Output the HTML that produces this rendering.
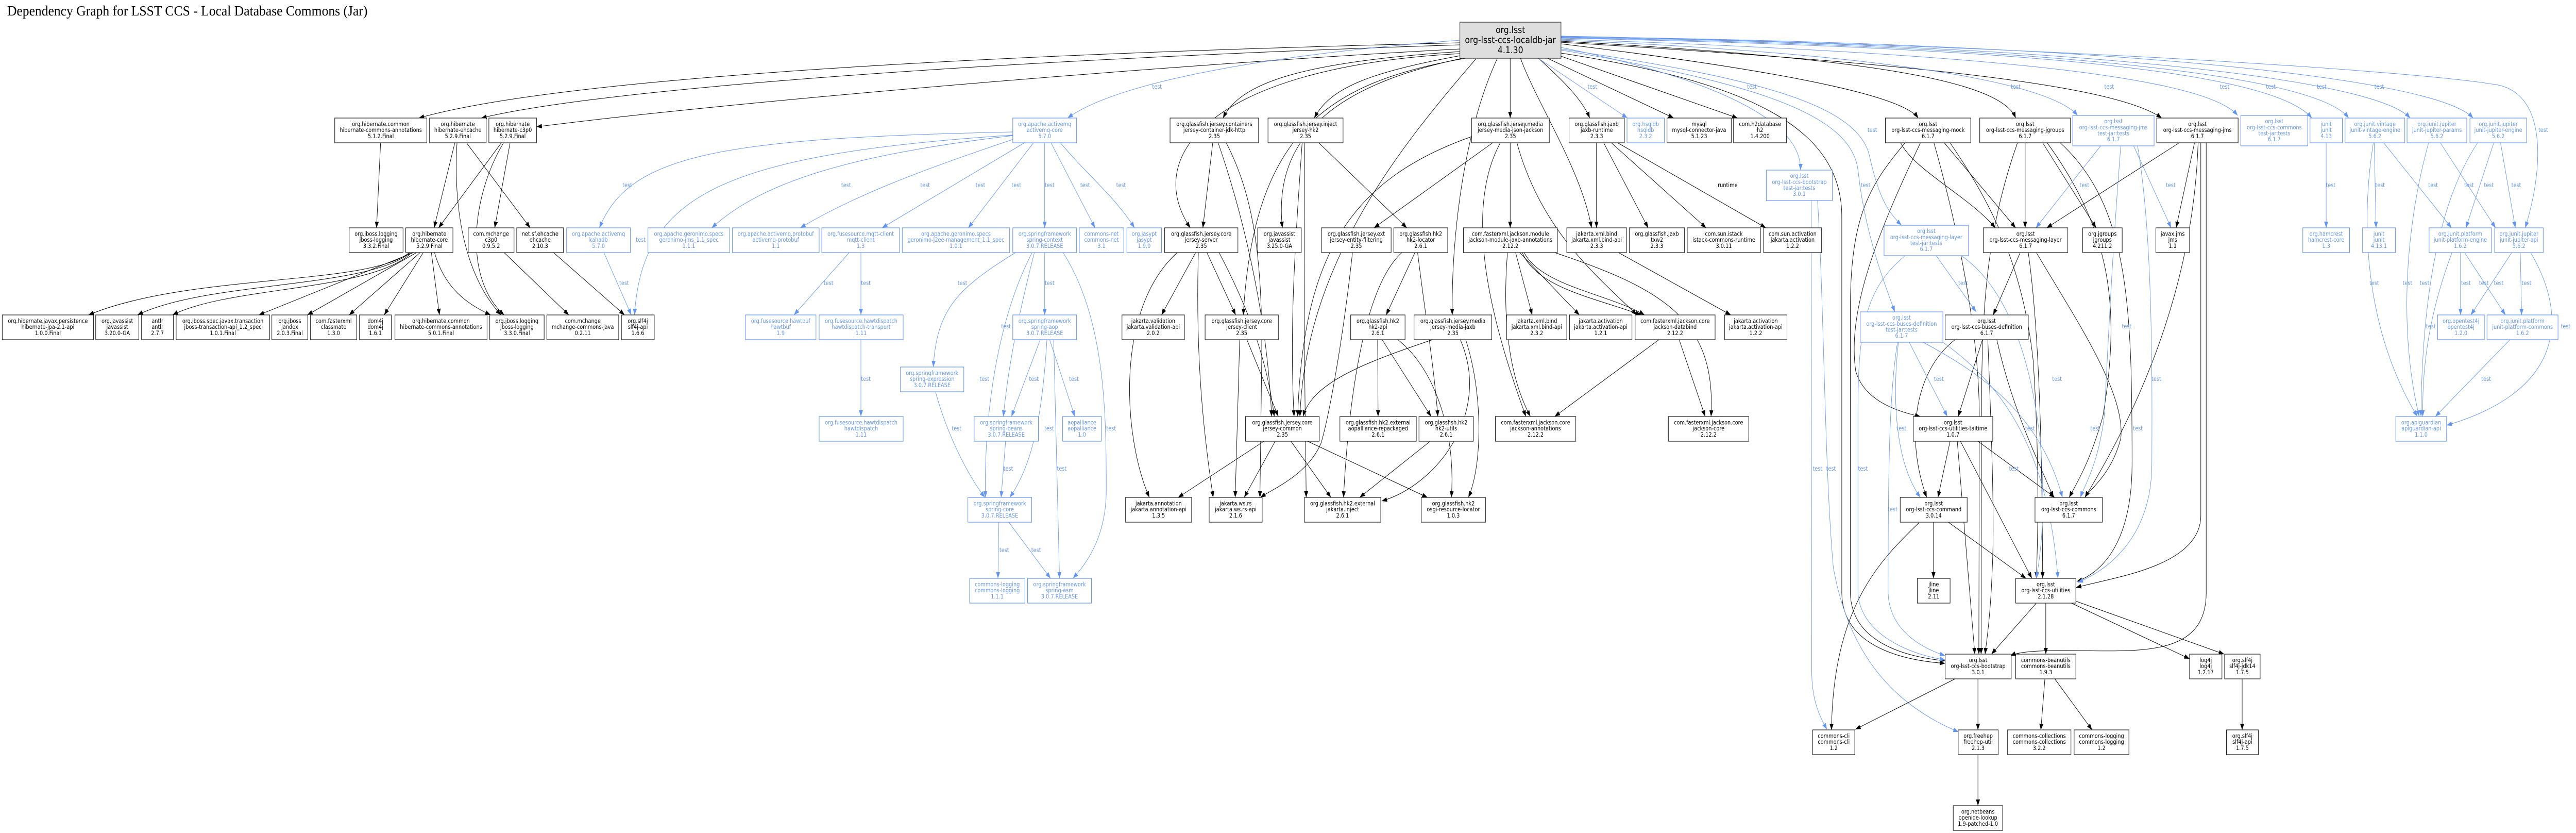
<!DOCTYPE html>
<html>
<head>
<meta charset="utf-8">
<title>Dependency Graph for LSST CCS - Local Database Commons (Jar)</title>
<style>
html,body{margin:0;padding:0;background:#fff;width:100%;height:100%;overflow:hidden;}
svg{display:block;width:100vw;height:100vh;}
.nd rect{fill:#fff;stroke:#1a1a1a;stroke-width:1.2;}
.nd text{font-family:"DejaVu Sans","Liberation Sans",sans-serif;font-size:11.2px;text-anchor:middle;fill:#000;}
.bl rect{stroke:#6495ED;}
.bl text{fill:#6495ED;}
.lb{font-family:"DejaVu Sans","Liberation Sans",sans-serif;font-size:11.2px;text-anchor:middle;fill:#6495ED;}
.lk{font-family:"DejaVu Sans","Liberation Sans",sans-serif;font-size:11.2px;text-anchor:middle;fill:#000;}
.ek path{fill:none;stroke:#000;stroke-width:1;}
.eb path{fill:none;stroke:#6495ED;stroke-width:1;}
</style>
</head>
<body>
<svg xmlns="http://www.w3.org/2000/svg" width="100%" height="100%" viewBox="0 0 5733 1616" preserveAspectRatio="none">
<defs>
<marker id="a" viewBox="0 0 12 9" refX="12" refY="4.5" markerWidth="12" markerHeight="9" markerUnits="userSpaceOnUse" orient="auto"><path d="M0,0L12,4.5L0,9z" fill="#000"/></marker>
<marker id="b" viewBox="0 0 12 9" refX="12" refY="4.5" markerWidth="12" markerHeight="9" markerUnits="userSpaceOnUse" orient="auto"><path d="M0,0L12,4.5L0,9z" fill="#6495ED"/></marker>
</defs>
<rect x="0" y="0" width="5733" height="1616" fill="#fff"/>
<text x="16" y="30" font-family="Liberation Serif, serif" font-size="27" textLength="802" lengthAdjust="spacingAndGlyphs" fill="#000">Dependency Graph for LSST CCS - Local Database Commons (Jar)</text>

<!-- BLACK EDGES -->
<g class="ek" marker-end="url(#a)">
<path d="M3250,83 C2200,105 1250,150 932,229"/>
<path d="M3250,87 C2250,115 1350,170 1071,229"/>
<path d="M3250,95 C2700,120 1700,190 1194,246"/>
<path d="M847,277 L838,442"/>
<path d="M1012,278 L966,442"/>
<path d="M1017,278 C1008,420 1040,540 1115,611"/>
<path d="M1039,278 L1180,442"/>
<path d="M1115,278 L976,442"/>
<path d="M1120,278 C1050,380 1030,540 1122,611"/>
<path d="M1135,278 L1101,442"/>
<path d="M911,490 C820,555 420,530 197,611"/>
<path d="M913,490 C820,560 460,545 306,611"/>
<path d="M916,490 C830,565 510,555 384,611"/>
<path d="M920,490 L576,611"/>
<path d="M927,490 L684,611"/>
<path d="M935,490 L777,611"/>
<path d="M942,490 L855,611"/>
<path d="M960,490 L978,611"/>
<path d="M967,490 C990,560 1040,590 1092,611"/>
<path d="M1122,490 L1266,611"/>
<path d="M1232,490 L1390,611"/>

<path d="M3250,100 C2900,120 2760,160 2722,229"/>
<path d="M3250,104 C2700,130 2540,300 2649,442"/>
<path d="M3255,113 C3000,160 2830,250 2854,442"/>
<path d="M3262,113 C2950,160 2790,260 2767,611"/>
<path d="M3250,108 C3050,140 2960,170 2925,229"/>
<path d="M3285,114 C3100,300 2905,520 2893,808"/>
<path d="M3361,113 L3361,229"/>
<path d="M3424,113 C3470,150 3520,190 3538,229"/>
<path d="M3444,113 L3725,229"/>
<path d="M3474,109 L3867,229"/>
<path d="M3474,85 C3900,130 4230,180 4269,229"/>
<path d="M3384,113 C3420,200 3520,330 3542,442"/>
<path d="M3332,114 C3260,250 3230,450 3232,611"/>
<path d="M3474,80 C4100,110 4450,150 4486,229"/>
<path d="M3474,82 C4200,120 4700,160 4811,229"/>
<path d="M3474,103 C3900,160 4099,250 4099,420 L4099,1150 C4100,1260 4250,1282 4329,1287"/>
<path d="M4240,277 C4160,360 4118,420 4118,600 L4118,1150 C4120,1250 4250,1275 4329,1282"/>

<path d="M2699,277 L2677,442"/>
<path d="M2711,277 C2760,400 2820,600 2830,808"/>
<path d="M2729,277 C2790,380 2810,500 2808,700 C2806,850 2805,920 2804,965"/>
<path d="M2620,490 C2480,600 2500,850 2558,965"/>
<path d="M2661,490 L2585,611"/>
<path d="M2667,490 C2660,700 2680,850 2700,965"/>
<path d="M2686,490 L2750,611"/>
<path d="M2713,490 C2780,600 2820,700 2836,808"/>
<path d="M2759,659 L2749,965"/>
<path d="M2775,659 L2845,808"/>
<path d="M2813,856 L2622,965"/>
<path d="M2838,856 L2769,965"/>
<path d="M2935,277 L3131,442"/>
<path d="M2898,277 C2880,500 2870,650 2880,808"/>
<path d="M2904,277 C2900,600 2905,800 2907,965"/>
<path d="M3275,265 C3000,350 2900,500 2888,808"/>
<path d="M3322,277 L3058,442"/>
<path d="M3361,277 L3361,442"/>
<path d="M3376,277 C3430,450 3560,540 3643,611"/>
<path d="M3339,277 C3250,420 3330,650 3396,808"/>
<path d="M3553,277 L3553,442"/>
<path d="M3569,277 L3668,442"/>
<path d="M3586,277 L3797,442"/>
<path d="M3600,277 L3930,442"/>
<path d="M3010,490 C2990,650 2960,800 2940,860 C2910,920 2840,945 2805,965"/>
<path d="M3149,490 L3085,611"/>
<path d="M3155,490 C3170,600 3190,700 3200,808"/>
<path d="M3120,490 C3030,560 3000,800 2990,965"/>
<path d="M3066,659 L3067,808"/>
<path d="M3076,659 L3185,808"/>
<path d="M3111,659 C3200,720 3240,850 3230,965"/>
<path d="M3188,659 C3050,700 2920,740 2900,808"/>
<path d="M3250,659 C3320,800 3200,940 3075,972"/>
<path d="M3262,659 C3300,760 3300,900 3268,965"/>
<path d="M3183,856 L3026,965"/>
<path d="M2873,856 L2962,965"/>
<path d="M2910,856 L3177,965"/>
<path d="M3373,490 L3410,611"/>
<path d="M3382,490 L3515,611"/>
<path d="M3388,490 C3420,560 3560,580 3652,611"/>
<path d="M3392,490 C3430,555 3580,570 3660,611"/>
<path d="M3460,490 C3700,560 3820,620 3808,808"/>
<path d="M3355,490 C3340,650 3370,750 3406,808"/>
<path d="M3602,490 L3852,611"/>
<path d="M3692,659 L3460,808"/>
<path d="M3737,659 L3795,808"/>

<path d="M4230,277 C4260,330 4380,380 4441,442"/>
<path d="M4327,277 L4486,442"/>
<path d="M4274,277 C4180,450 4110,600 4130,720 C4150,780 4230,800 4274,808"/>
<path d="M4304,277 C4360,450 4405,650 4405,808 C4405,1000 4404,1150 4404,1269"/>
<path d="M4340,277 C4420,380 4500,500 4525,700 C4540,900 4535,1050 4532,1122"/>
<path d="M4507,277 L4507,442"/>
<path d="M4546,277 L4665,442"/>
<path d="M4490,277 C4420,450 4410,600 4410,808 C4410,1000 4409,1150 4409,1269"/>
<path d="M4556,277 C4700,450 4720,600 4680,808 C4650,900 4620,940 4605,965"/>
<path d="M4585,277 C4740,400 4745,600 4745,900 C4745,1050 4680,1110 4622,1128"/>
<path d="M4850,277 L4555,442"/>
<path d="M4884,277 L4843,442"/>
<path d="M4892,277 C4880,600 4720,850 4640,965"/>
<path d="M4898,277 L4898,1000 C4898,1100 4700,1120 4620,1140"/>
<path d="M4910,277 L4910,1150 C4910,1280 4750,1262 4590,1262 C4520,1262 4490,1266 4474,1272"/>
<path d="M4496,490 L4436,611"/>
<path d="M4514,490 C4540,650 4545,900 4546,1122"/>
<path d="M4532,490 C4620,620 4730,760 4720,850 C4700,920 4650,950 4640,965"/>
<path d="M4351,659 C4260,720 4240,850 4288,965"/>
<path d="M4412,659 L4358,808"/>
<path d="M4424,659 C4430,800 4440,1000 4434,1100 C4430,1200 4420,1250 4418,1269"/>
<path d="M4444,659 C4480,800 4540,900 4570,965"/>
<path d="M4340,856 L4313,965"/>
<path d="M4356,856 L4395,1269"/>
<path d="M4363,856 L4522,1122"/>
<path d="M4402,856 L4573,965"/>
<path d="M4303,1013 L4303,1122"/>
<path d="M4271,1014 C4180,1090 4080,1180 4076,1416"/>
<path d="M4336,1013 L4509,1122"/>
<path d="M4532,1170 L4432,1269"/>
<path d="M4553,1170 L4553,1269"/>
<path d="M4610,1170 L4873,1278"/>
<path d="M4619,1166 L4950,1269"/>
<path d="M4351,1317 L4129,1415"/>
<path d="M4402,1317 L4402,1416"/>
<path d="M4551,1317 L4542,1416"/>
<path d="M4573,1317 L4656,1416"/>
<path d="M4990,1317 L4990,1416"/>
<path d="M4402,1464 L4402,1563"/>
</g>

<!-- BLUE EDGES -->
<g class="eb" marker-end="url(#b)">
<path d="M3474,70 C4600,90 5400,140 5560,165 C5670,185 5660,330 5620,442"/>
<path d="M3250,78 C2900,100 2500,150 2376,229"/>
<path d="M3425,114 L3622,229"/>
<path d="M3474,92 C3800,150 4010,230 4007,330"/>
<path d="M3474,78 C4100,100 4550,150 4624,224"/>
<path d="M3474,76 C4300,100 4900,140 4980,224"/>
<path d="M3474,74 C4400,90 5050,130 5145,229"/>
<path d="M3474,73 C4500,88 5150,140 5227,229"/>
<path d="M3474,72 C4600,86 5280,150 5364,229"/>
<path d="M3474,71 C4700,84 5420,150 5504,229"/>
<path d="M3474,95 C3900,150 4130,200 4160,300 C4180,380 4200,410 4232,437"/>
<path d="M3474,97 C3900,160 4120,220 4135,330 C4150,450 4190,540 4217,605"/>

<path d="M2254,256 C1600,268 1400,300 1334,442"/>
<path d="M2254,262 C1600,300 1430,380 1412,611"/>
<path d="M2254,263 C1900,300 1700,350 1584,442"/>
<path d="M2256,270 C2050,330 1900,380 1781,442"/>
<path d="M2280,277 L1963,442"/>
<path d="M2300,277 L2155,442"/>
<path d="M2325,277 L2325,442"/>
<path d="M2339,277 L2437,442"/>
<path d="M2360,277 C2420,340 2480,380 2525,442"/>
<path d="M1344,490 L1405,611"/>
<path d="M1890,490 L1767,611"/>
<path d="M1916,490 L1916,611"/>
<path d="M1916,659 L1916,808"/>
<path d="M2260,490 C2130,560 2085,600 2077,712"/>
<path d="M2325,490 L2325,611"/>
<path d="M2302,490 C2270,600 2245,700 2233,808"/>
<path d="M2297,490 C2220,620 2190,800 2193,965"/>
<path d="M2366,490 C2460,620 2462,800 2462,950 C2462,1050 2410,1100 2388,1122"/>
<path d="M2315,659 L2251,808"/>
<path d="M2336,659 L2392,808"/>
<path d="M2330,659 C2320,800 2300,900 2247,965"/>
<path d="M2345,659 L2358,1122"/>
<path d="M2082,760 C2110,850 2160,930 2192,965"/>
<path d="M2238,856 L2228,965"/>
<path d="M2223,1013 L2221,1122"/>
<path d="M2245,1013 L2338,1122"/>

<path d="M4031,389 C4032,600 4032,800 4032,1300 C4032,1360 4050,1390 4066,1415"/>
<path d="M4045,389 C4060,600 4060,900 4080,1100 C4120,1300 4250,1380 4359,1420"/>
<path d="M4240,496 C4150,560 4135,640 4135,800 L4135,1150 C4140,1230 4250,1270 4329,1280"/>
<path d="M4223,664 C4205,760 4202,900 4202,1150 C4205,1220 4270,1255 4329,1272"/>
<path d="M4309,496 L4398,605"/>
<path d="M4249,664 L4334,808"/>
<path d="M4225,664 C4210,780 4220,900 4274,965"/>
<path d="M4676,282 L4531,442"/>
<path d="M4748,282 L4832,442"/>
<path d="M4720,282 C4700,500 4690,700 4683,808 C4670,900 4640,940 4630,965"/>
<path d="M4757,282 C4790,450 4790,700 4789,900 C4789,1050 4680,1110 4624,1130"/>
<path d="M4365,496 C4470,560 4520,700 4540,850 C4555,1000 4540,1080 4532,1122"/>
<path d="M4280,664 C4400,720 4540,800 4590,965"/>
<path d="M4324,664 C4480,760 4560,900 4580,1122"/>

<path d="M5177,277 L5177,442"/>
<path d="M5284,277 L5288,442"/>
<path d="M5305,277 L5456,442"/>
<path d="M5282,277 C5250,450 5270,650 5380,808"/>
<path d="M5431,277 L5554,442"/>
<path d="M5405,277 C5350,450 5340,650 5384,808"/>
<path d="M5550,277 L5488,442"/>
<path d="M5565,277 L5598,442"/>
<path d="M5514,277 C5420,400 5390,600 5388,808"/>
<path d="M5476,490 L5476,611"/>
<path d="M5485,490 L5576,611"/>
<path d="M5457,490 C5410,600 5390,700 5392,808"/>
<path d="M5590,490 L5499,611"/>
<path d="M5609,490 L5612,611"/>
<path d="M5632,490 C5720,620 5700,760 5445,825"/>
<path d="M5586,659 L5420,808"/>
</g>

<!-- EDGE LABELS -->
<g>
<text class="lb" x="1396" y="363">test</text>
<text class="lb" x="1426" y="469">test</text>
<text class="lb" x="1389" y="553">test</text>
<text class="lb" x="1883" y="363">test</text>
<text class="lb" x="2059" y="363">test</text>
<text class="lb" x="2182" y="363">test</text>
<text class="lb" x="2262" y="363">test</text>
<text class="lb" x="2336" y="363">test</text>
<text class="lb" x="2415" y="363">test</text>
<text class="lb" x="2495" y="363">test</text>
<text class="lb" x="1844" y="553">test</text>
<text class="lb" x="1927" y="553">test</text>
<text class="lb" x="2142" y="553">test</text>
<text class="lb" x="2336" y="553">test</text>
<text class="lb" x="2239" y="637">test</text>
<text class="lb" x="1927" y="739">test</text>
<text class="lb" x="2191" y="739">test</text>
<text class="lb" x="2301" y="739">test</text>
<text class="lb" x="2390" y="739">test</text>
<text class="lb" x="2575" y="172">test</text>
<text class="lb" x="2129" y="835">test</text>
<text class="lb" x="2335" y="835">test</text>
<text class="lb" x="2473" y="835">test</text>
<text class="lb" x="2244" y="913">test</text>
<text class="lb" x="2363" y="913">test</text>
<text class="lb" x="2235" y="1071">test</text>
<text class="lb" x="2306" y="1071">test</text>
<text class="lb" x="3544" y="172">test</text>
<text class="lb" x="3899" y="172">test</text>
<text class="lb" x="4167" y="256">test</text>
<text class="lb" x="4152" y="363">test</text>
<text class="lk" x="3845" y="363">runtime</text>
<text class="lb" x="4486" y="172">test</text>
<text class="lb" x="4694" y="172">test</text>
<text class="lb" x="4951" y="172">test</text>
<text class="lb" x="5054" y="172">test</text>
<text class="lb" x="5167" y="172">test</text>
<text class="lb" x="5295" y="172">test</text>
<text class="lb" x="5660" y="256">test</text>
<text class="lb" x="4639" y="363">test</text>
<text class="lb" x="4831" y="363">test</text>
<text class="lb" x="5187" y="363">test</text>
<text class="lb" x="5297" y="363">test</text>
<text class="lb" x="5415" y="363">test</text>
<text class="lb" x="5495" y="363">test</text>
<text class="lb" x="5539" y="363">test</text>
<text class="lb" x="5600" y="363">test</text>
<text class="lb" x="4369" y="553">test</text>
<text class="lb" x="5284" y="553">test</text>
<text class="lb" x="5358" y="553">test</text>
<text class="lb" x="5396" y="553">test</text>
<text class="lb" x="5488" y="553">test</text>
<text class="lb" x="5528" y="553">test</text>
<text class="lb" x="5561" y="553">test</text>
<text class="lb" x="5623" y="553">test</text>
<text class="lb" x="4733" y="637">test</text>
<text class="lb" x="5410" y="637">test</text>
<text class="lb" x="5710" y="637">test</text>
<text class="lb" x="4315" y="739">test</text>
<text class="lb" x="4578" y="739">test</text>
<text class="lb" x="4799" y="739">test</text>
<text class="lb" x="5533" y="739">test</text>
<text class="lb" x="4518" y="835">test</text>
<text class="lb" x="4663" y="835">test</text>
<text class="lb" x="4758" y="835">test</text>
<text class="lb" x="4482" y="913">test</text>
<text class="lb" x="4045" y="913">test</text>
<text class="lb" x="4075" y="913">test</text>
<text class="lb" x="4146" y="913">test</text>
<text class="lb" x="4232" y="835">test</text>
<text class="lb" x="4212" y="992">test</text>
</g>

<!-- ROOT -->
<g>
<rect x="3249" y="43" width="225" height="70" fill="#dedede" stroke="#333" stroke-width="1.3"/>
<text x="3361.5" y="64" font-family="DejaVu Sans, Liberation Sans, sans-serif" font-size="17.9" text-anchor="middle" fill="#000">org.lsst<tspan x="3361.5" dy="19.6">org-lsst-ccs-localdb-jar</tspan><tspan x="3361.5" dy="19.6">4.1.30</tspan></text>
</g>

<!-- NODES R1 -->
<g class="nd"><rect x="745" y="229" width="205" height="48"/><text x="847.5" y="244.4">org.hibernate.common<tspan x="847.5" dy="11.7">hibernate-commons-annotations</tspan><tspan x="847.5" dy="11.7">5.1.2.Final</tspan></text></g>
<g class="nd"><rect x="956" y="229" width="126" height="48"/><text x="1019" y="244.4">org.hibernate<tspan x="1019" dy="11.7">hibernate-ehcache</tspan><tspan x="1019" dy="11.7">5.2.9.Final</tspan></text></g>
<g class="nd"><rect x="1088" y="229" width="106" height="48"/><text x="1141" y="244.4">org.hibernate<tspan x="1141" dy="11.7">hibernate-c3p0</tspan><tspan x="1141" dy="11.7">5.2.9.Final</tspan></text></g>
<g class="nd bl"><rect x="2254" y="229" width="142" height="48"/><text x="2325" y="244.4">org.apache.activemq<tspan x="2325" dy="11.7">activemq-core</tspan><tspan x="2325" dy="11.7">5.7.0</tspan></text></g>
<g class="nd"><rect x="2604" y="229" width="197" height="48"/><text x="2702.5" y="244.4">org.glassfish.jersey.containers<tspan x="2702.5" dy="11.7">jersey-container-jdk-http</tspan><tspan x="2702.5" dy="11.7">2.35</tspan></text></g>
<g class="nd"><rect x="2822" y="229" width="167" height="48"/><text x="2905.5" y="244.4">org.glassfish.jersey.inject<tspan x="2905.5" dy="11.7">jersey-hk2</tspan><tspan x="2905.5" dy="11.7">2.35</tspan></text></g>
<g class="nd"><rect x="3275" y="229" width="173" height="48"/><text x="3361.5" y="244.4">org.glassfish.jersey.media<tspan x="3361.5" dy="11.7">jersey-media-json-jackson</tspan><tspan x="3361.5" dy="11.7">2.35</tspan></text></g>
<g class="nd"><rect x="3492" y="229" width="123" height="48"/><text x="3553.5" y="244.4">org.glassfish.jaxb<tspan x="3553.5" dy="11.7">jaxb-runtime</tspan><tspan x="3553.5" dy="11.7">2.3.3</tspan></text></g>
<g class="nd bl"><rect x="3621" y="229" width="83" height="48"/><text x="3662.5" y="244.4">org.hsqldb<tspan x="3662.5" dy="11.7">hsqldb</tspan><tspan x="3662.5" dy="11.7">2.3.2</tspan></text></g>
<g class="nd"><rect x="3710" y="229" width="143" height="48"/><text x="3781.5" y="244.4">mysql<tspan x="3781.5" dy="11.7">mysql-connector-java</tspan><tspan x="3781.5" dy="11.7">5.1.23</tspan></text></g>
<g class="nd"><rect x="3858" y="229" width="118" height="48"/><text x="3917" y="244.4">com.h2database<tspan x="3917" dy="11.7">h2</tspan><tspan x="3917" dy="11.7">1.4.200</tspan></text></g>
<g class="nd"><rect x="4196" y="229" width="190" height="48"/><text x="4291" y="244.4">org.lsst<tspan x="4291" dy="11.7">org-lsst-ccs-messaging-mock</tspan><tspan x="4291" dy="11.7">6.1.7</tspan></text></g>
<g class="nd"><rect x="4406" y="229" width="202" height="48"/><text x="4507" y="244.4">org.lsst<tspan x="4507" dy="11.7">org-lsst-ccs-messaging-jgroups</tspan><tspan x="4507" dy="11.7">6.1.7</tspan></text></g>
<g class="nd bl"><rect x="4613" y="224" width="181" height="59"/><text x="4703.5" y="239.1">org.lsst<tspan x="4703.5" dy="11.7">org-lsst-ccs-messaging-jms</tspan><tspan x="4703.5" dy="11.7">test-jar:tests</tspan><tspan x="4703.5" dy="11.7">6.1.7</tspan></text></g>
<g class="nd"><rect x="4800" y="229" width="181" height="48"/><text x="4890.5" y="244.4">org.lsst<tspan x="4890.5" dy="11.7">org-lsst-ccs-messaging-jms</tspan><tspan x="4890.5" dy="11.7">6.1.7</tspan></text></g>
<g class="nd bl"><rect x="4987" y="224" width="149" height="59"/><text x="5061.5" y="239.1">org.lsst<tspan x="5061.5" dy="11.7">org-lsst-ccs-commons</tspan><tspan x="5061.5" dy="11.7">test-jar:tests</tspan><tspan x="5061.5" dy="11.7">6.1.7</tspan></text></g>
<g class="nd bl"><rect x="5141" y="229" width="72" height="48"/><text x="5177" y="244.4">junit<tspan x="5177" dy="11.7">junit</tspan><tspan x="5177" dy="11.7">4.13</tspan></text></g>
<g class="nd bl"><rect x="5219" y="229" width="133" height="48"/><text x="5285.5" y="244.4">org.junit.vintage<tspan x="5285.5" dy="11.7">junit-vintage-engine</tspan><tspan x="5285.5" dy="11.7">5.6.2</tspan></text></g>
<g class="nd bl"><rect x="5357" y="229" width="133" height="48"/><text x="5423.5" y="244.4">org.junit.jupiter<tspan x="5423.5" dy="11.7">junit-jupiter-params</tspan><tspan x="5423.5" dy="11.7">5.6.2</tspan></text></g>
<g class="nd bl"><rect x="5497" y="229" width="126" height="48"/><text x="5560" y="244.4">org.junit.jupiter<tspan x="5560" dy="11.7">junit-jupiter-engine</tspan><tspan x="5560" dy="11.7">5.6.2</tspan></text></g>
<g class="nd bl"><rect x="3931" y="330" width="147" height="59"/><text x="4004.5" y="345.1">org.lsst<tspan x="4004.5" dy="11.7">org-lsst-ccs-bootstrap</tspan><tspan x="4004.5" dy="11.7">test-jar:tests</tspan><tspan x="4004.5" dy="11.7">3.0.1</tspan></text></g>

<!-- NODES R2 -->
<g class="nd"><rect x="777" y="442" width="120" height="48"/><text x="837" y="457.4">org.jboss.logging<tspan x="837" dy="11.7">jboss-logging</tspan><tspan x="837" dy="11.7">3.3.2.Final</tspan></text></g>
<g class="nd"><rect x="903" y="442" width="105" height="48"/><text x="955.5" y="457.4">org.hibernate<tspan x="955.5" dy="11.7">hibernate-core</tspan><tspan x="955.5" dy="11.7">5.2.9.Final</tspan></text></g>
<g class="nd"><rect x="1042" y="442" width="102" height="48"/><text x="1093" y="457.4">com.mchange<tspan x="1093" dy="11.7">c3p0</tspan><tspan x="1093" dy="11.7">0.9.5.2</tspan></text></g>
<g class="nd"><rect x="1150" y="442" width="104" height="48"/><text x="1202" y="457.4">net.sf.ehcache<tspan x="1202" dy="11.7">ehcache</tspan><tspan x="1202" dy="11.7">2.10.3</tspan></text></g>
<g class="nd bl"><rect x="1261" y="442" width="142" height="48"/><text x="1332" y="457.4">org.apache.activemq<tspan x="1332" dy="11.7">kahadb</tspan><tspan x="1332" dy="11.7">5.7.0</tspan></text></g>
<g class="nd bl"><rect x="1442" y="442" width="182" height="48"/><text x="1533" y="457.4">org.apache.geronimo.specs<tspan x="1533" dy="11.7">geronimo-jms_1.1_spec</tspan><tspan x="1533" dy="11.7">1.1.1</tspan></text></g>
<g class="nd bl"><rect x="1630" y="442" width="193" height="48"/><text x="1726.5" y="457.4">org.apache.activemq.protobuf<tspan x="1726.5" dy="11.7">activemq-protobuf</tspan><tspan x="1726.5" dy="11.7">1.1</tspan></text></g>
<g class="nd bl"><rect x="1829" y="442" width="173" height="48"/><text x="1915.5" y="457.4">org.fusesource.mqtt-client<tspan x="1915.5" dy="11.7">mqtt-client</tspan><tspan x="1915.5" dy="11.7">1.3</tspan></text></g>
<g class="nd bl"><rect x="2008" y="442" width="239" height="48"/><text x="2127.5" y="457.4">org.apache.geronimo.specs<tspan x="2127.5" dy="11.7">geronimo-j2ee-management_1.1_spec</tspan><tspan x="2127.5" dy="11.7">1.0.1</tspan></text></g>
<g class="nd bl"><rect x="2254" y="442" width="142" height="48"/><text x="2325" y="457.4">org.springframework<tspan x="2325" dy="11.7">spring-context</tspan><tspan x="2325" dy="11.7">3.0.7.RELEASE</tspan></text></g>
<g class="nd bl"><rect x="2402" y="442" width="99" height="48"/><text x="2451.5" y="457.4">commons-net<tspan x="2451.5" dy="11.7">commons-net</tspan><tspan x="2451.5" dy="11.7">3.1</tspan></text></g>
<g class="nd bl"><rect x="2508" y="442" width="77" height="48"/><text x="2546.5" y="457.4">org.jasypt<tspan x="2546.5" dy="11.7">jasypt</tspan><tspan x="2546.5" dy="11.7">1.9.0</tspan></text></g>
<g class="nd"><rect x="2592" y="442" width="163" height="48"/><text x="2673.5" y="457.4">org.glassfish.jersey.core<tspan x="2673.5" dy="11.7">jersey-server</tspan><tspan x="2673.5" dy="11.7">2.35</tspan></text></g>
<g class="nd"><rect x="2799" y="442" width="97" height="48"/><text x="2847.5" y="457.4">org.javassist<tspan x="2847.5" dy="11.7">javassist</tspan><tspan x="2847.5" dy="11.7">3.25.0-GA</tspan></text></g>
<g class="nd"><rect x="2941" y="442" width="155" height="48"/><text x="3018.5" y="457.4">org.glassfish.jersey.ext<tspan x="3018.5" dy="11.7">jersey-entity-filtering</tspan><tspan x="3018.5" dy="11.7">2.35</tspan></text></g>
<g class="nd"><rect x="3102" y="442" width="120" height="48"/><text x="3162" y="457.4">org.glassfish.hk2<tspan x="3162" dy="11.7">hk2-locator</tspan><tspan x="3162" dy="11.7">2.6.1</tspan></text></g>
<g class="nd"><rect x="3257" y="442" width="209" height="48"/><text x="3361.5" y="457.4">com.fasterxml.jackson.module<tspan x="3361.5" dy="11.7">jackson-module-jaxb-annotations</tspan><tspan x="3361.5" dy="11.7">2.12.2</tspan></text></g>
<g class="nd"><rect x="3487" y="442" width="133" height="48"/><text x="3553.5" y="457.4">jakarta.xml.bind<tspan x="3553.5" dy="11.7">jakarta.xml.bind-api</tspan><tspan x="3553.5" dy="11.7">2.3.3</tspan></text></g>
<g class="nd"><rect x="3626" y="442" width="123" height="48"/><text x="3687.5" y="457.4">org.glassfish.jaxb<tspan x="3687.5" dy="11.7">txw2</tspan><tspan x="3687.5" dy="11.7">2.3.3</tspan></text></g>
<g class="nd"><rect x="3755" y="442" width="163" height="48"/><text x="3836.5" y="457.4">com.sun.istack<tspan x="3836.5" dy="11.7">istack-commons-runtime</tspan><tspan x="3836.5" dy="11.7">3.0.11</tspan></text></g>
<g class="nd"><rect x="3925" y="442" width="129" height="48"/><text x="3989.5" y="457.4">com.sun.activation<tspan x="3989.5" dy="11.7">jakarta.activation</tspan><tspan x="3989.5" dy="11.7">1.2.2</tspan></text></g>
<g class="nd bl"><rect x="4193" y="437" width="188" height="59"/><text x="4287" y="452.1">org.lsst<tspan x="4287" dy="11.7">org-lsst-ccs-messaging-layer</tspan><tspan x="4287" dy="11.7">test-jar:tests</tspan><tspan x="4287" dy="11.7">6.1.7</tspan></text></g>
<g class="nd"><rect x="4414" y="442" width="188" height="48"/><text x="4508" y="457.4">org.lsst<tspan x="4508" dy="11.7">org-lsst-ccs-messaging-layer</tspan><tspan x="4508" dy="11.7">6.1.7</tspan></text></g>
<g class="nd"><rect x="4635" y="442" width="88" height="48"/><text x="4679" y="457.4">org.jgroups<tspan x="4679" dy="11.7">jgroups</tspan><tspan x="4679" dy="11.7">4.211.2</tspan></text></g>
<g class="nd"><rect x="4798" y="442" width="75" height="48"/><text x="4835.5" y="457.4">javax.jms<tspan x="4835.5" dy="11.7">jms</tspan><tspan x="4835.5" dy="11.7">1.1</tspan></text></g>
<g class="nd bl"><rect x="5125" y="442" width="104" height="48"/><text x="5177" y="457.4">org.hamcrest<tspan x="5177" dy="11.7">hamcrest-core</tspan><tspan x="5177" dy="11.7">1.3</tspan></text></g>
<g class="nd bl"><rect x="5258" y="442" width="73" height="48"/><text x="5294.5" y="457.4">junit<tspan x="5294.5" dy="11.7">junit</tspan><tspan x="5294.5" dy="11.7">4.13.1</tspan></text></g>
<g class="nd bl"><rect x="5406" y="442" width="139" height="48"/><text x="5475.5" y="457.4">org.junit.platform<tspan x="5475.5" dy="11.7">junit-platform-engine</tspan><tspan x="5475.5" dy="11.7">1.6.2</tspan></text></g>
<g class="nd bl"><rect x="5552" y="442" width="108" height="48"/><text x="5606" y="457.4">org.junit.jupiter<tspan x="5606" dy="11.7">junit-jupiter-api</tspan><tspan x="5606" dy="11.7">5.6.2</tspan></text></g>

<!-- NODES R3 -->
<g class="nd"><rect x="5" y="611" width="203" height="48"/><text x="106.5" y="626.4">org.hibernate.javax.persistence<tspan x="106.5" dy="11.7">hibernate-jpa-2.1-api</tspan><tspan x="106.5" dy="11.7">1.0.0.Final</tspan></text></g>
<g class="nd"><rect x="213" y="611" width="96" height="48"/><text x="261" y="626.4">org.javassist<tspan x="261" dy="11.7">javassist</tspan><tspan x="261" dy="11.7">3.20.0-GA</tspan></text></g>
<g class="nd"><rect x="315" y="611" width="71" height="48"/><text x="350.5" y="626.4">antlr<tspan x="350.5" dy="11.7">antlr</tspan><tspan x="350.5" dy="11.7">2.7.7</tspan></text></g>
<g class="nd"><rect x="392" y="611" width="208" height="48"/><text x="496" y="626.4">org.jboss.spec.javax.transaction<tspan x="496" dy="11.7">jboss-transaction-api_1.2_spec</tspan><tspan x="496" dy="11.7">1.0.1.Final</tspan></text></g>
<g class="nd"><rect x="605" y="611" width="80" height="48"/><text x="645" y="626.4">org.jboss<tspan x="645" dy="11.7">jandex</tspan><tspan x="645" dy="11.7">2.0.3.Final</tspan></text></g>
<g class="nd"><rect x="691" y="611" width="103" height="48"/><text x="742.5" y="626.4">com.fasterxml<tspan x="742.5" dy="11.7">classmate</tspan><tspan x="742.5" dy="11.7">1.3.0</tspan></text></g>
<g class="nd"><rect x="800" y="611" width="71" height="48"/><text x="835.5" y="626.4">dom4j<tspan x="835.5" dy="11.7">dom4j</tspan><tspan x="835.5" dy="11.7">1.6.1</tspan></text></g>
<g class="nd"><rect x="879" y="611" width="205" height="48"/><text x="981.5" y="626.4">org.hibernate.common<tspan x="981.5" dy="11.7">hibernate-commons-annotations</tspan><tspan x="981.5" dy="11.7">5.0.1.Final</tspan></text></g>
<g class="nd"><rect x="1090" y="611" width="121" height="48"/><text x="1150.5" y="626.4">org.jboss.logging<tspan x="1150.5" dy="11.7">jboss-logging</tspan><tspan x="1150.5" dy="11.7">3.3.0.Final</tspan></text></g>
<g class="nd"><rect x="1217" y="611" width="160" height="48"/><text x="1297" y="626.4">com.mchange<tspan x="1297" dy="11.7">mchange-commons-java</tspan><tspan x="1297" dy="11.7">0.2.11</tspan></text></g>
<g class="nd"><rect x="1383" y="611" width="73" height="48"/><text x="1419.5" y="626.4">org.slf4j<tspan x="1419.5" dy="11.7">slf4j-api</tspan><tspan x="1419.5" dy="11.7">1.6.6</tspan></text></g>
<g class="nd bl"><rect x="1659" y="611" width="157" height="48"/><text x="1737.5" y="626.4">org.fusesource.hawtbuf<tspan x="1737.5" dy="11.7">hawtbuf</tspan><tspan x="1737.5" dy="11.7">1.9</tspan></text></g>
<g class="nd bl"><rect x="1823" y="611" width="187" height="48"/><text x="1916.5" y="626.4">org.fusesource.hawtdispatch<tspan x="1916.5" dy="11.7">hawtdispatch-transport</tspan><tspan x="1916.5" dy="11.7">1.11</tspan></text></g>
<g class="nd bl"><rect x="2254" y="611" width="142" height="48"/><text x="2325" y="626.4">org.springframework<tspan x="2325" dy="11.7">spring-aop</tspan><tspan x="2325" dy="11.7">3.0.7.RELEASE</tspan></text></g>
<g class="nd"><rect x="2497" y="611" width="139" height="48"/><text x="2566.5" y="626.4">jakarta.validation<tspan x="2566.5" dy="11.7">jakarta.validation-api</tspan><tspan x="2566.5" dy="11.7">2.0.2</tspan></text></g>
<g class="nd"><rect x="2682" y="611" width="163" height="48"/><text x="2763.5" y="626.4">org.glassfish.jersey.core<tspan x="2763.5" dy="11.7">jersey-client</tspan><tspan x="2763.5" dy="11.7">2.35</tspan></text></g>
<g class="nd"><rect x="3006" y="611" width="121" height="48"/><text x="3066.5" y="626.4">org.glassfish.hk2<tspan x="3066.5" dy="11.7">hk2-api</tspan><tspan x="3066.5" dy="11.7">2.6.1</tspan></text></g>
<g class="nd"><rect x="3147" y="611" width="173" height="48"/><text x="3233.5" y="626.4">org.glassfish.jersey.media<tspan x="3233.5" dy="11.7">jersey-media-jaxb</tspan><tspan x="3233.5" dy="11.7">2.35</tspan></text></g>
<g class="nd"><rect x="3353" y="611" width="134" height="48"/><text x="3420" y="626.4">jakarta.xml.bind<tspan x="3420" dy="11.7">jakarta.xml.bind-api</tspan><tspan x="3420" dy="11.7">2.3.2</tspan></text></g>
<g class="nd"><rect x="3493" y="611" width="139" height="48"/><text x="3562.5" y="626.4">jakarta.activation<tspan x="3562.5" dy="11.7">jakarta.activation-api</tspan><tspan x="3562.5" dy="11.7">1.2.1</tspan></text></g>
<g class="nd"><rect x="3639" y="611" width="178" height="48"/><text x="3728" y="626.4">com.fasterxml.jackson.core<tspan x="3728" dy="11.7">jackson-databind</tspan><tspan x="3728" dy="11.7">2.12.2</tspan></text></g>
<g class="nd"><rect x="3838" y="611" width="139" height="48"/><text x="3907.5" y="626.4">jakarta.activation<tspan x="3907.5" dy="11.7">jakarta.activation-api</tspan><tspan x="3907.5" dy="11.7">1.2.2</tspan></text></g>
<g class="nd bl"><rect x="4140" y="605" width="184" height="59"/><text x="4232" y="620.1">org.lsst<tspan x="4232" dy="11.7">org-lsst-ccs-buses-definition</tspan><tspan x="4232" dy="11.7">test-jar:tests</tspan><tspan x="4232" dy="11.7">6.1.7</tspan></text></g>
<g class="nd"><rect x="4329" y="611" width="185" height="48"/><text x="4421.5" y="626.4">org.lsst<tspan x="4421.5" dy="11.7">org-lsst-ccs-buses-definition</tspan><tspan x="4421.5" dy="11.7">6.1.7</tspan></text></g>
<g class="nd bl"><rect x="5425" y="611" width="104" height="48"/><text x="5477" y="626.4">org.opentest4j<tspan x="5477" dy="11.7">opentest4j</tspan><tspan x="5477" dy="11.7">1.2.0</tspan></text></g>
<g class="nd bl"><rect x="5535" y="611" width="158" height="48"/><text x="5614" y="626.4">org.junit.platform<tspan x="5614" dy="11.7">junit-platform-commons</tspan><tspan x="5614" dy="11.7">1.6.2</tspan></text></g>
<g class="nd bl"><rect x="2004" y="712" width="141" height="48"/><text x="2074.5" y="727.4">org.springframework<tspan x="2074.5" dy="11.7">spring-expression</tspan><tspan x="2074.5" dy="11.7">3.0.7.RELEASE</tspan></text></g>

<!-- NODES R4 -->
<g class="nd bl"><rect x="1823" y="808" width="187" height="48"/><text x="1916.5" y="823.4">org.fusesource.hawtdispatch<tspan x="1916.5" dy="11.7">hawtdispatch</tspan><tspan x="1916.5" dy="11.7">1.11</tspan></text></g>
<g class="nd bl"><rect x="2168" y="808" width="143" height="48"/><text x="2239.5" y="823.4">org.springframework<tspan x="2239.5" dy="11.7">spring-beans</tspan><tspan x="2239.5" dy="11.7">3.0.7.RELEASE</tspan></text></g>
<g class="nd bl"><rect x="2365" y="808" width="86" height="48"/><text x="2408" y="823.4">aopalliance<tspan x="2408" dy="11.7">aopalliance</tspan><tspan x="2408" dy="11.7">1.0</tspan></text></g>
<g class="nd"><rect x="2772" y="808" width="164" height="48"/><text x="2854" y="823.4">org.glassfish.jersey.core<tspan x="2854" dy="11.7">jersey-common</tspan><tspan x="2854" dy="11.7">2.35</tspan></text></g>
<g class="nd"><rect x="2982" y="808" width="170" height="48"/><text x="3067" y="823.4">org.glassfish.hk2.external<tspan x="3067" dy="11.7">aopalliance-repackaged</tspan><tspan x="3067" dy="11.7">2.6.1</tspan></text></g>
<g class="nd"><rect x="3158" y="808" width="121" height="48"/><text x="3218.5" y="823.4">org.glassfish.hk2<tspan x="3218.5" dy="11.7">hk2-utils</tspan><tspan x="3218.5" dy="11.7">2.6.1</tspan></text></g>
<g class="nd"><rect x="3328" y="808" width="179" height="48"/><text x="3417.5" y="823.4">com.fasterxml.jackson.core<tspan x="3417.5" dy="11.7">jackson-annotations</tspan><tspan x="3417.5" dy="11.7">2.12.2</tspan></text></g>
<g class="nd"><rect x="3713" y="808" width="179" height="48"/><text x="3802.5" y="823.4">com.fasterxml.jackson.core<tspan x="3802.5" dy="11.7">jackson-core</tspan><tspan x="3802.5" dy="11.7">2.12.2</tspan></text></g>
<g class="nd"><rect x="4258" y="808" width="177" height="48"/><text x="4346.5" y="823.4">org.lsst<tspan x="4346.5" dy="11.7">org-lsst-ccs-utilities-taitime</tspan><tspan x="4346.5" dy="11.7">1.0.7</tspan></text></g>
<g class="nd bl"><rect x="5332" y="808" width="113" height="48"/><text x="5388.5" y="823.4">org.apiguardian<tspan x="5388.5" dy="11.7">apiguardian-api</tspan><tspan x="5388.5" dy="11.7">1.1.0</tspan></text></g>

<!-- NODES R5 -->
<g class="nd bl"><rect x="2154" y="965" width="142" height="48"/><text x="2225" y="980.4">org.springframework<tspan x="2225" dy="11.7">spring-core</tspan><tspan x="2225" dy="11.7">3.0.7.RELEASE</tspan></text></g>
<g class="nd"><rect x="2505" y="965" width="147" height="48"/><text x="2578.5" y="980.4">jakarta.annotation<tspan x="2578.5" dy="11.7">jakarta.annotation-api</tspan><tspan x="2578.5" dy="11.7">1.3.5</tspan></text></g>
<g class="nd"><rect x="2691" y="965" width="118" height="48"/><text x="2750" y="980.4">jakarta.ws.rs<tspan x="2750" dy="11.7">jakarta.ws.rs-api</tspan><tspan x="2750" dy="11.7">2.1.6</tspan></text></g>
<g class="nd"><rect x="2903" y="965" width="170" height="48"/><text x="2988" y="980.4">org.glassfish.hk2.external<tspan x="2988" dy="11.7">jakarta.inject</tspan><tspan x="2988" dy="11.7">2.6.1</tspan></text></g>
<g class="nd"><rect x="3163" y="965" width="143" height="48"/><text x="3234.5" y="980.4">org.glassfish.hk2<tspan x="3234.5" dy="11.7">osgi-resource-locator</tspan><tspan x="3234.5" dy="11.7">1.0.3</tspan></text></g>
<g class="nd"><rect x="4229" y="965" width="149" height="48"/><text x="4303.5" y="980.4">org.lsst<tspan x="4303.5" dy="11.7">org-lsst-ccs-command</tspan><tspan x="4303.5" dy="11.7">3.0.14</tspan></text></g>
<g class="nd"><rect x="4529" y="965" width="150" height="48"/><text x="4604" y="980.4">org.lsst<tspan x="4604" dy="11.7">org-lsst-ccs-commons</tspan><tspan x="4604" dy="11.7">6.1.7</tspan></text></g>

<!-- NODES R6 -->
<g class="nd bl"><rect x="2158" y="1122" width="123" height="48"/><text x="2219.5" y="1137.4">commons-logging<tspan x="2219.5" dy="11.7">commons-logging</tspan><tspan x="2219.5" dy="11.7">1.1.1</tspan></text></g>
<g class="nd bl"><rect x="2287" y="1122" width="142" height="48"/><text x="2358" y="1137.4">org.springframework<tspan x="2358" dy="11.7">spring-asm</tspan><tspan x="2358" dy="11.7">3.0.7.RELEASE</tspan></text></g>
<g class="nd"><rect x="4267" y="1122" width="73" height="48"/><text x="4303.5" y="1137.4">jline<tspan x="4303.5" dy="11.7">jline</tspan><tspan x="4303.5" dy="11.7">2.11</tspan></text></g>
<g class="nd"><rect x="4486" y="1122" width="134" height="48"/><text x="4553" y="1137.4">org.lsst<tspan x="4553" dy="11.7">org-lsst-ccs-utilities</tspan><tspan x="4553" dy="11.7">2.1.28</tspan></text></g>

<!-- NODES R7 -->
<g class="nd"><rect x="4329" y="1269" width="147" height="48"/><text x="4402.5" y="1284.4">org.lsst<tspan x="4402.5" dy="11.7">org-lsst-ccs-bootstrap</tspan><tspan x="4402.5" dy="11.7">3.0.1</tspan></text></g>
<g class="nd"><rect x="4486" y="1269" width="134" height="48"/><text x="4553" y="1284.4">commons-beanutils<tspan x="4553" dy="11.7">commons-beanutils</tspan><tspan x="4553" dy="11.7">1.9.3</tspan></text></g>
<g class="nd"><rect x="4873" y="1269" width="72" height="48"/><text x="4909" y="1284.4">log4j<tspan x="4909" dy="11.7">log4j</tspan><tspan x="4909" dy="11.7">1.2.17</tspan></text></g>
<g class="nd"><rect x="4951" y="1269" width="79" height="48"/><text x="4990.5" y="1284.4">org.slf4j<tspan x="4990.5" dy="11.7">slf4j-jdk14</tspan><tspan x="4990.5" dy="11.7">1.7.5</tspan></text></g>

<!-- NODES R8 -->
<g class="nd"><rect x="4034" y="1416" width="94" height="48"/><text x="4081" y="1431.4">commons-cli<tspan x="4081" dy="11.7">commons-cli</tspan><tspan x="4081" dy="11.7">1.2</tspan></text></g>
<g class="nd"><rect x="4358" y="1416" width="89" height="48"/><text x="4402.5" y="1431.4">org.freehep<tspan x="4402.5" dy="11.7">freehep-util</tspan><tspan x="4402.5" dy="11.7">2.1.3</tspan></text></g>
<g class="nd"><rect x="4468" y="1416" width="141" height="48"/><text x="4538.5" y="1431.4">commons-collections<tspan x="4538.5" dy="11.7">commons-collections</tspan><tspan x="4538.5" dy="11.7">3.2.2</tspan></text></g>
<g class="nd"><rect x="4616" y="1416" width="122" height="48"/><text x="4677" y="1431.4">commons-logging<tspan x="4677" dy="11.7">commons-logging</tspan><tspan x="4677" dy="11.7">1.2</tspan></text></g>
<g class="nd"><rect x="4955" y="1416" width="71" height="48"/><text x="4990.5" y="1431.4">org.slf4j<tspan x="4990.5" dy="11.7">slf4j-api</tspan><tspan x="4990.5" dy="11.7">1.7.5</tspan></text></g>

<!-- NODES R9 -->
<g class="nd"><rect x="4347" y="1563" width="110" height="48"/><text x="4402" y="1578.4">org.netbeans<tspan x="4402" dy="11.7">openide-lookup</tspan><tspan x="4402" dy="11.7">1.9-patched-1.0</tspan></text></g>
</svg>
</body>
</html>
